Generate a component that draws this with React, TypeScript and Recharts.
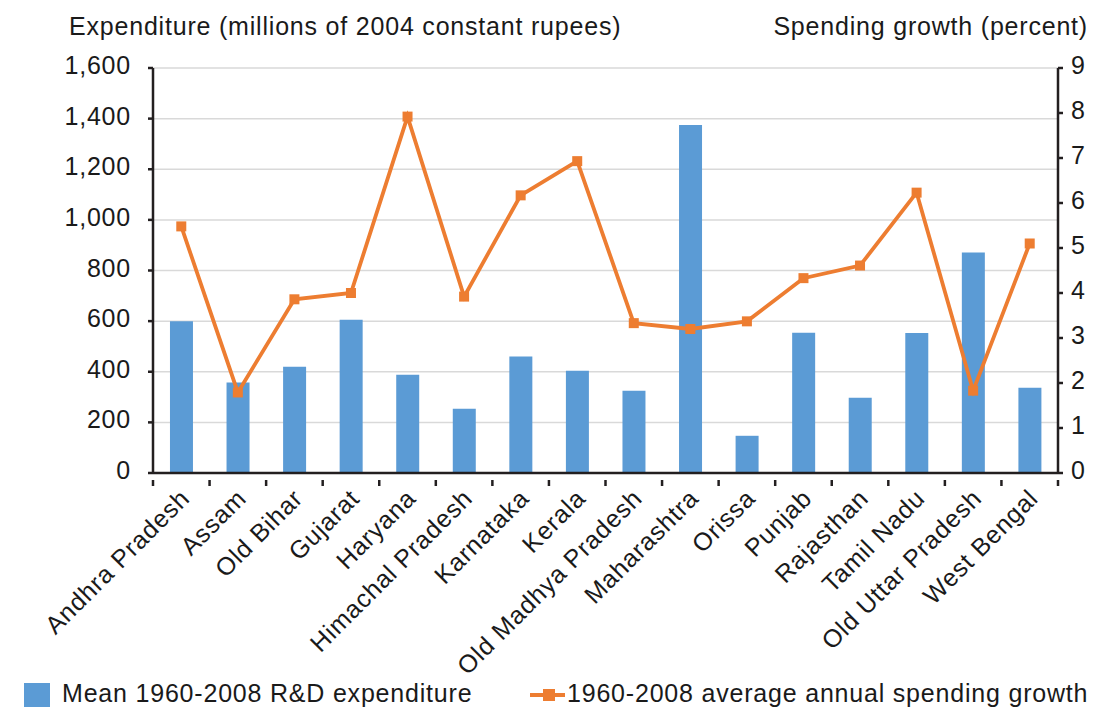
import React from "react";
import { ComposedChart, Bar, Line, XAxis, YAxis, CartesianGrid, Legend } from "recharts";

const states = [
  "Andhra Pradesh", "Assam", "Old Bihar", "Gujarat", "Haryana", "Himachal Pradesh",
  "Karnataka", "Kerala", "Old Madhya Pradesh", "Maharashtra", "Orissa", "Punjab",
  "Rajasthan", "Tamil Nadu", "Old Uttar Pradesh", "West Bengal",
];
const expenditure = [600, 358, 420, 605, 388, 254, 460, 404, 325, 1375, 147, 554, 297, 553, 871, 337];
const growth = [5.48, 1.79, 3.86, 4.0, 7.92, 3.92, 6.17, 6.93, 3.33, 3.2, 3.37, 4.33, 4.61, 6.23, 1.83, 5.1];
const leftTicks = [0, 200, 400, 600, 800, 1000, 1200, 1400, 1600];
const rightTicks = [0, 1, 2, 3, 4, 5, 6, 7, 8, 9];

const seriesNames = {
  bar: "Mean 1960-2008 R&D expenditure",
  line: "1960-2008 average annual spending growth",
};
const axisTitles = {
  left: "Expenditure (millions of 2004 constant rupees)",
  right: "Spending growth (percent)",
};

const data = states.map((s, i) => ({ state: s, exp: expenditure[i], growth: growth[i] }));

const FONT = "'Liberation Sans', Arial, Helvetica, sans-serif";
const TXT = "#1a1a1a";
const BLUE = "#5B9BD5";
const ORANGE = "#ED7D31";
const AXIS = "#231f20";
const FS = 25;
const LS = 0.8;

const W = 1093;
const H = 709;
const PLOT_L = 153;
const PLOT_R = 1058;
const BAND = (PLOT_R - PLOT_L) / states.length;

const fmt = (v: number) => v.toLocaleString("en-US");

const LeftTick = (props: any) => {
  const { y, payload } = props;
  return (
    <g>
      <line x1={PLOT_L - 5} x2={PLOT_L} y1={y} y2={y} stroke={AXIS} strokeWidth={2.5} />
      <text x={PLOT_L - 22} y={y} dy={6} textAnchor="end" fontSize={FS} letterSpacing={LS} fill={TXT} fontFamily={FONT}>
        {fmt(payload.value)}
      </text>
    </g>
  );
};

const RightTick = (props: any) => {
  const { y, payload } = props;
  return (
    <g>
      <line x1={PLOT_R} x2={PLOT_R + 5} y1={y} y2={y} stroke={AXIS} strokeWidth={2.5} />
      <text x={PLOT_R + 13} y={y} dy={6} textAnchor="start" fontSize={FS} letterSpacing={LS} fill={TXT} fontFamily={FONT}>
        {payload.value}
      </text>
    </g>
  );
};

const XTick = (props: any) => {
  const { x, y, payload, index } = props;
  const last = index === states.length - 1;
  return (
    <g>
      <line x1={x - BAND / 2} x2={x - BAND / 2} y1={y - 1} y2={y + 5} stroke={AXIS} strokeWidth={2.5} />
      {last && <line x1={x + BAND / 2} x2={x + BAND / 2} y1={y - 1} y2={y + 5} stroke={AXIS} strokeWidth={2.5} />}
      <g transform={`translate(${x},${y + 9}) rotate(-45)`}>
        <text x={0} y={0} dy={14} textAnchor="end" fontSize={FS} letterSpacing={LS} fill={TXT} fontFamily={FONT}>
          {payload.value}
        </text>
      </g>
    </g>
  );
};

const SquareDot = (props: any) => {
  const { cx, cy } = props;
  if (cx == null || cy == null) return null;
  return <rect x={cx - 5} y={cy - 5} width={10} height={10} fill={ORANGE} />;
};

const LegendContent = () => (
  <div style={{ position: "relative", width: W, height: 36, fontFamily: FONT, fontSize: FS, letterSpacing: LS, color: TXT }}>
    <div style={{ position: "absolute", left: 24, top: 10, width: 26, height: 24, background: BLUE }} />
    <div style={{ position: "absolute", left: 62, top: 5, whiteSpace: "nowrap", lineHeight: "30px" }}>{seriesNames.bar}</div>
    <div style={{ position: "absolute", left: 530, top: 20, width: 35, height: 4, background: ORANGE }} />
    <div style={{ position: "absolute", left: 543, top: 16, width: 12, height: 12, background: ORANGE }} />
    <div style={{ position: "absolute", left: 567, top: 5, whiteSpace: "nowrap", lineHeight: "30px" }}>{seriesNames.line}</div>
  </div>
);

export default function App() {
  return (
    <div style={{ position: "absolute", left: 0, top: 0, width: W, height: H, background: "#fff" }}>
      <ComposedChart
        width={W}
        height={H}
        data={data}
        margin={{ top: 68, right: 0, left: 53, bottom: 0 }}
        barCategoryGap="30%"
      >
        <CartesianGrid horizontal vertical={false} stroke="#d9d9d9" strokeWidth={1.5} yAxisId="left" />
        <XAxis
          dataKey="state"
          interval={0}
          height={200}
          tickLine={false}
          axisLine={{ stroke: AXIS, strokeWidth: 2.5 }}
          tick={<XTick />}
        />
        <YAxis
          yAxisId="left"
          orientation="left"
          width={100}
          domain={[0, 1600]}
          ticks={leftTicks}
          interval={0}
          tickLine={false}
          axisLine={{ stroke: AXIS, strokeWidth: 2.5 }}
          tick={<LeftTick />}
          label={{
            content: () => (
              <text x={69} y={35} fontSize={FS} letterSpacing={LS} fill={TXT} fontFamily={FONT}>
                {axisTitles.left}
              </text>
            ),
          }}
        />
        <YAxis
          yAxisId="right"
          orientation="right"
          width={35}
          domain={[0, 9]}
          ticks={rightTicks}
          interval={0}
          tickLine={false}
          axisLine={{ stroke: AXIS, strokeWidth: 2.5 }}
          tick={<RightTick />}
          label={{
            content: () => (
              <text x={1088} y={35} textAnchor="end" fontSize={FS} letterSpacing={LS} fill={TXT} fontFamily={FONT}>
                {axisTitles.right}
              </text>
            ),
          }}
        />
        <Legend
          verticalAlign="bottom"
          content={<LegendContent />}
          wrapperStyle={{ left: 0, bottom: 0, width: W, height: 36 }}
        />
        <Bar yAxisId="left" dataKey="exp" name={seriesNames.bar} fill={BLUE} isAnimationActive={false} />
        <Line
          yAxisId="right"
          dataKey="growth"
          name={seriesNames.line}
          type="linear"
          stroke={ORANGE}
          strokeWidth={3.8}
          dot={<SquareDot />}
          activeDot={false}
          isAnimationActive={false}
        />
      </ComposedChart>
    </div>
  );
}
